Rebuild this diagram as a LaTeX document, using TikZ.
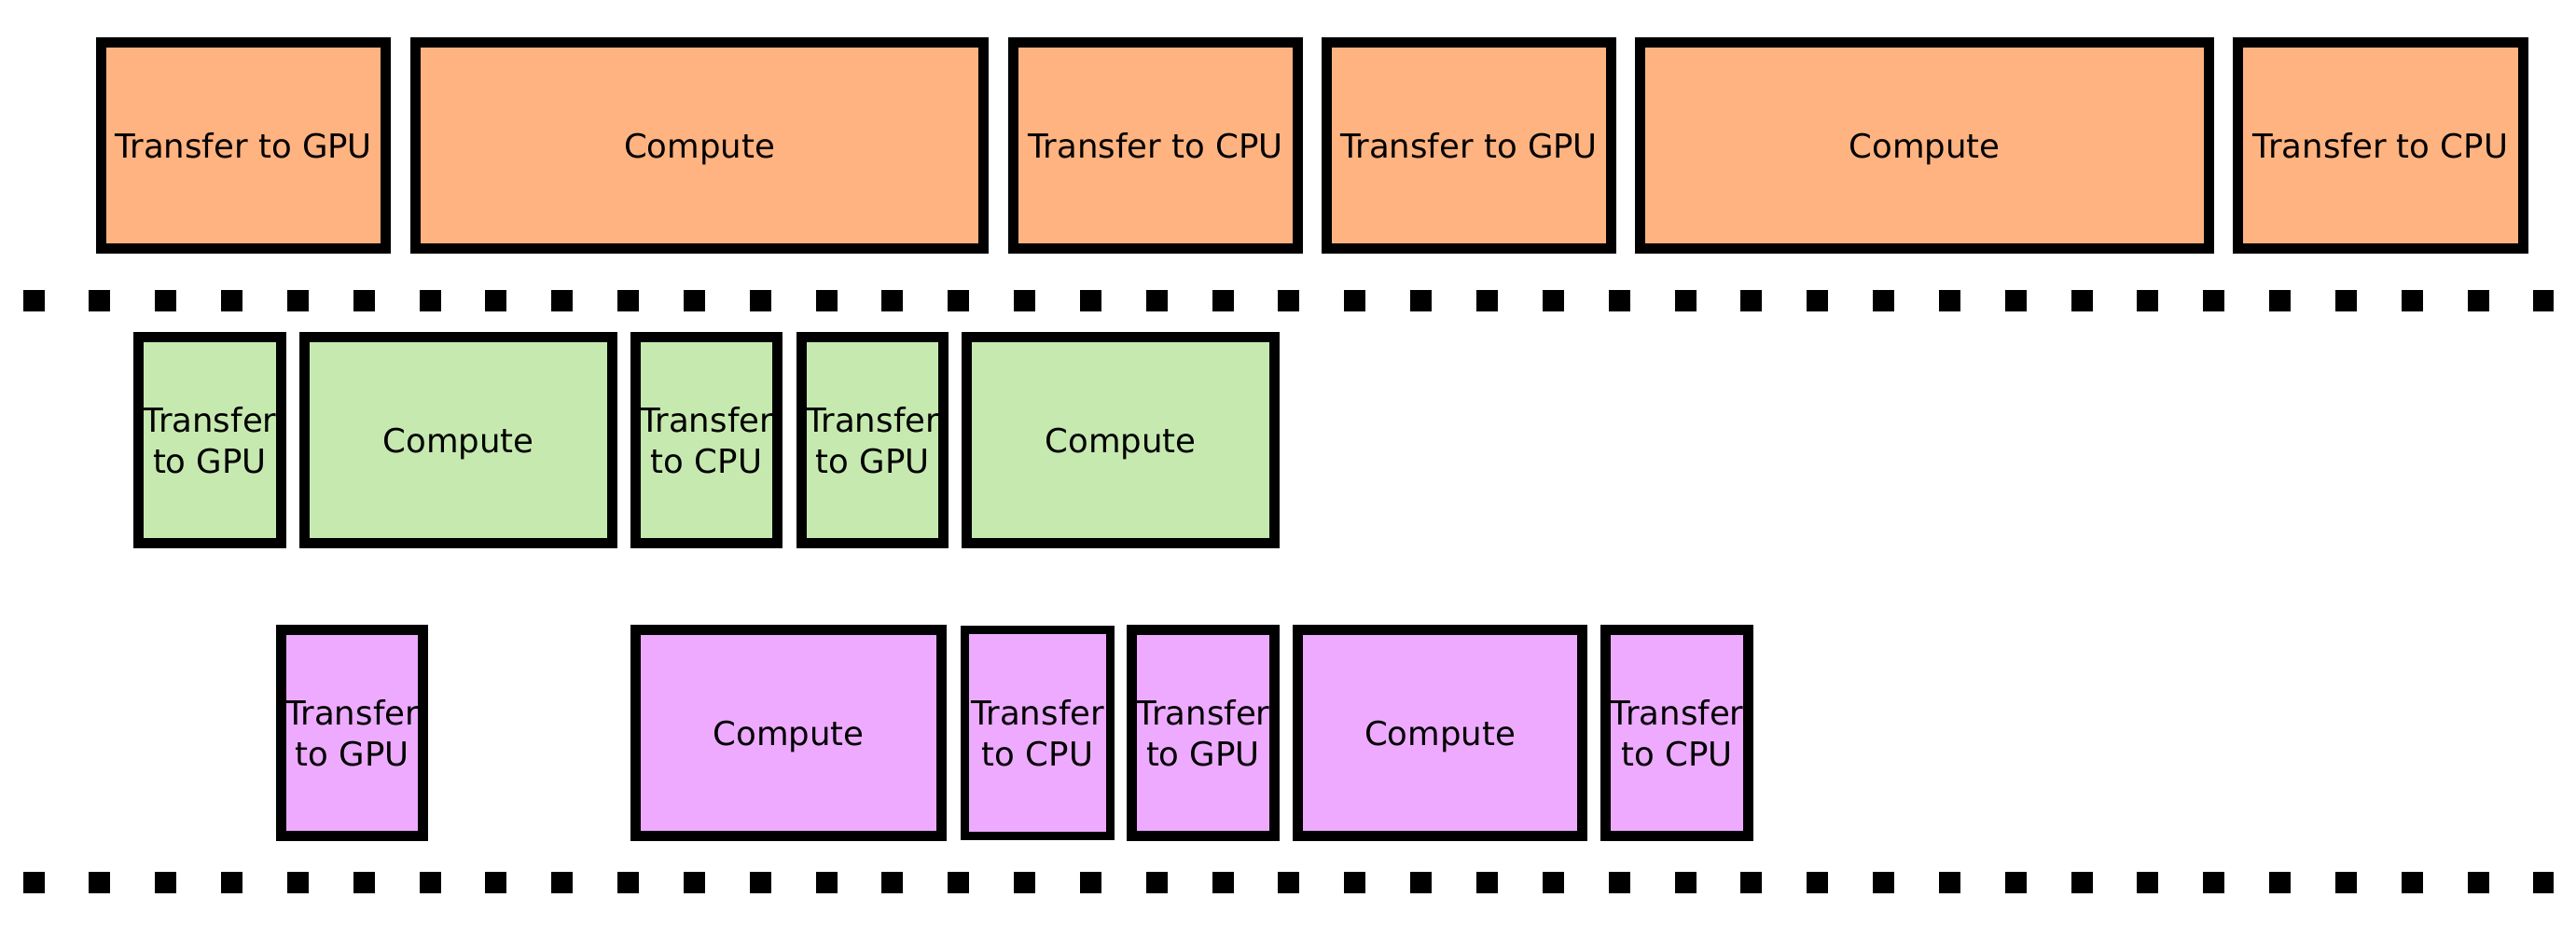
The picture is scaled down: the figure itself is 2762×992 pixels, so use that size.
\documentclass[tikz,border=0pt]{standalone}
\usepackage{fontspec}
\setmainfont{DejaVu Sans}
\definecolor{cpuorange}{HTML}{FFB380}
\definecolor{streamgreen}{HTML}{C6E9AF}
\definecolor{streampurple}{HTML}{EEAAFF}
\tikzset{
  task/.style={draw=black, line width=0.115cm, inner sep=0pt, align=center,
    minimum height=2.205cm, font=\fontsize{10.1pt}{12.5pt}\selectfont},
  serialtask/.style={task, fill=cpuorange},
  streamA/.style={task, fill=streamgreen},
  streamB/.style={task, fill=streampurple},
  compute/.style={text depth=0pt},
  separator/.style={line width=0.23cm, line cap=butt, dash pattern=on 0.23cm off 0.478cm}
}
\begin{document}
\begin{tikzpicture}[x=0.01cm, y=-0.01cm]
  \useasboundingbox (0,0) rectangle (2762,992);
  % ---------- serial ----------
  \node[serialtask, minimum width=3.045cm] (o1) at (261,156) {Transfer to GPU};
  \node[serialtask, compute, minimum width=6.085cm] (o2) at (750,156) {Compute};
  \node[serialtask, minimum width=3.045cm] (o3) at (1239,156) {Transfer to CPU};
  \node[serialtask, minimum width=3.045cm] (o4) at (1575,156) {Transfer to GPU};
  \node[serialtask, compute, minimum width=6.095cm] (o5) at (2063.5,156) {Compute};
  \node[serialtask, minimum width=3.055cm] (o6) at (2552.5,156) {Transfer to CPU};
  % ---------- separator ----------
  \draw[separator] (24.5,323) -- (2738,323);
  % ---------- stream 1 ----------
  \node[streamA, minimum width=1.525cm] (g1) at (225,472) {Transfer\\to GPU};
  \node[streamA, compute, minimum width=3.295cm] (g2) at (491.5,472) {Compute};
  \node[streamA, minimum width=1.515cm] (g3) at (757.5,472) {Transfer\\to CPU};
  \node[streamA, minimum width=1.515cm] (g4) at (935.5,472) {Transfer\\to GPU};
  \node[streamA, compute, minimum width=3.295cm] (g5) at (1201.5,472) {Compute};
  % ---------- stream 2 ----------
  \node[streamB, minimum width=1.515cm] (p1) at (377.5,786) {Transfer\\to GPU};
  \node[streamB, compute, minimum width=3.275cm] (p2) at (845.5,786) {Compute};
  \node[streamB, line width=0.086cm, minimum width=1.564cm, minimum height=2.214cm] (p3) at (1112.5,786) {Transfer\\to CPU};
  \node[streamB, minimum width=1.525cm] (p4) at (1290,786) {Transfer\\to GPU};
  \node[streamB, compute, minimum width=3.045cm] (p5) at (1544,786) {Compute};
  \node[streamB, minimum width=1.525cm] (p6) at (1798,786) {Transfer\\to CPU};
  % ---------- separator ----------
  \draw[separator] (24.5,947) -- (2738,947);
\end{tikzpicture}
\end{document}
